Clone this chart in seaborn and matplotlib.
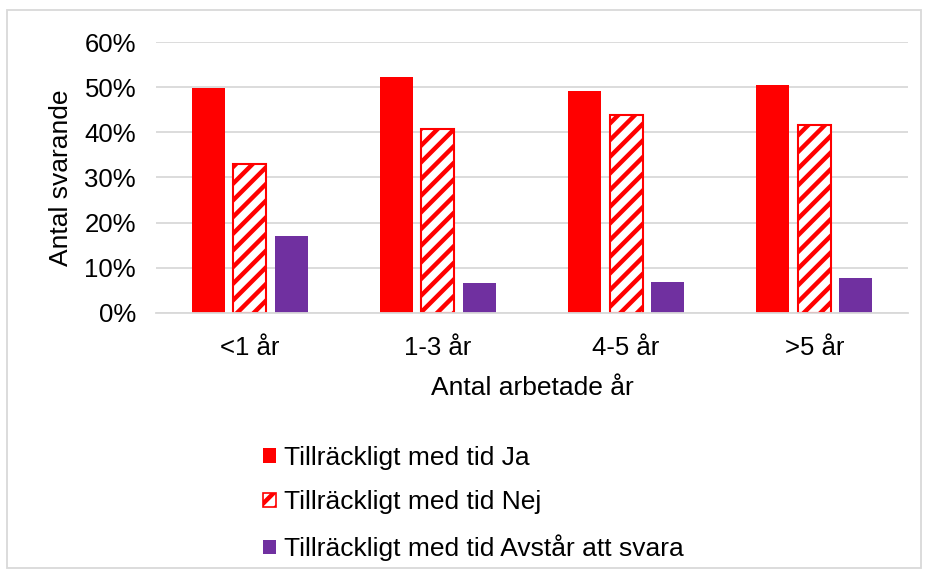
import matplotlib
matplotlib.use("Agg")
import matplotlib.pyplot as plt
import seaborn as sns
import pandas as pd
from matplotlib.patches import Rectangle
from matplotlib.ticker import PercentFormatter

categories = ["<1 år", "1-3 år", "4-5 år", ">5 år"]
series = ["Tillräckligt med tid Ja", "Tillräckligt med tid Nej", "Tillräckligt med tid Avstår att svara"]
ja = [49.8, 52.2, 49.1, 50.4]
nej = [33.0, 40.8, 43.8, 41.6]
avstar = [17.1, 6.6, 6.9, 7.7]

rows = []
for s, vals in zip(series, [ja, nej, avstar]):
    for c, v in zip(categories, vals):
        rows.append({"Antal arbetade år": c, "serie": s, "värde": v / 100})
df = pd.DataFrame(rows)

sns.set_theme(style="white")
plt.rcParams['font.family'] = ['Liberation Sans', 'DejaVu Sans']
plt.rcParams['text.color'] = 'black'
plt.rcParams['hatch.linewidth'] = 3.2
plt.rcParams['hatch.color'] = '#ff0000'

fig = plt.figure(figsize=(9.26, 5.72), dpi=100)
ax = fig.add_axes([0.168, 0.453, 0.813, 0.4734])

palette = {series[0]: "#ff0000", series[1]: "#ff0000", series[2]: "#7030a0"}
sns.barplot(data=df, x="Antal arbetade år", y="värde", hue="serie", hue_order=series,
            order=categories, palette=palette, width=0.66, gap=0.2, ax=ax,
            saturation=1, legend=True)

for cont, s in zip(ax.containers, series):
    for bar in cont:
        if s == series[1]:
            bar.set_facecolor("white")
            bar.set_edgecolor("#ff0000")
            bar.set_hatch("//")
            bar.set_linewidth(1.5)
        else:
            bar.set_edgecolor("none")

ax.set_ylim(0, 0.6)
ax.set_yticks([0, 0.1, 0.2, 0.3, 0.4, 0.5, 0.6])
ax.yaxis.set_major_formatter(PercentFormatter(1.0, decimals=0))
ax.grid(axis="y", color="#d9d9d9", linewidth=1.3)
ax.set_axisbelow(True)
for sp in ["top", "right", "left"]:
    ax.spines[sp].set_visible(False)
ax.spines["bottom"].set_color("#d9d9d9")
ax.spines["bottom"].set_linewidth(1.3)
ax.tick_params(axis="both", length=0, labelsize=18.5, colors="#000000")
ax.tick_params(axis="x", pad=17)
ax.tick_params(axis="y", pad=14)
ax.set_xlabel("Antal arbetade år", fontsize=19, color="black", labelpad=11)
ax.set_ylabel("Antal svarande", fontsize=19, color="black", labelpad=8)

leg = ax.get_legend()
handles = leg.legend_handles
for h, s in zip(handles, series):
    if s == series[1]:
        h.set_facecolor("white")
        h.set_edgecolor("#ff0000")
        h.set_hatch("//")
        h.set_linewidth(1.2)
    else:
        h.set_edgecolor("none")
leg.remove()
fig.legend(handles, series, loc="upper left", bbox_to_anchor=(0.284, 0.220),
           frameon=False, fontsize=19, handlelength=0.48, handleheight=0.48,
           handletextpad=0.3, labelspacing=0.77, borderaxespad=0, borderpad=0,
           labelcolor="black")

fig.patches.append(Rectangle((0.0076, 0.007), 0.987, 0.976, transform=fig.transFigure,
                             fill=False, edgecolor="#d9d9d9", linewidth=1.3))

fig.savefig("out.png", dpi=100)
